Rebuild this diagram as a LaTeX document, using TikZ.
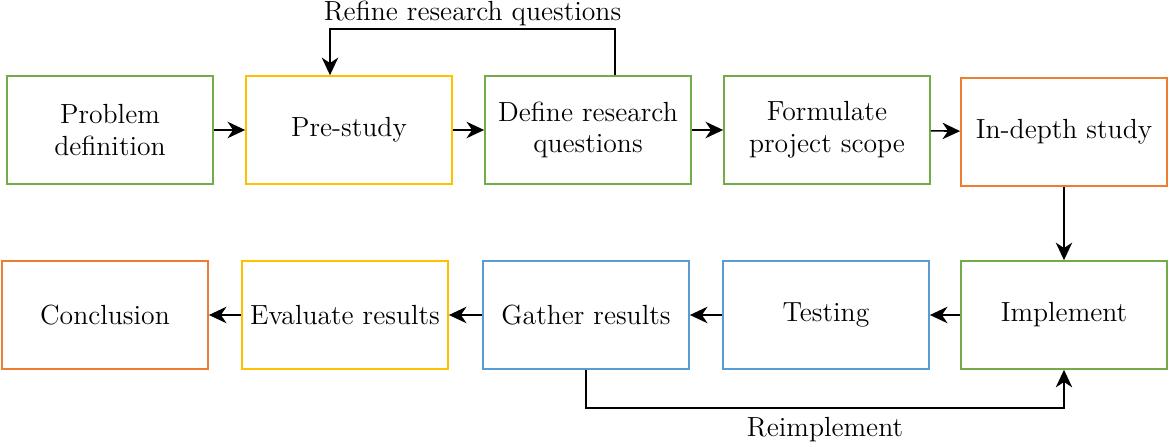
\documentclass[tikz,border=0pt]{standalone}
\definecolor{sgreen}{HTML}{70AD47}
\definecolor{sgold}{HTML}{FFC000}
\definecolor{sorange}{HTML}{ED7D31}
\definecolor{sblue}{HTML}{5B9BD5}
\usepackage{tikz}
\usetikzlibrary{calc, positioning, arrows.meta}

\begin{document}
\begin{tikzpicture}[
  stage/.style={draw=#1, fill=white, line width=0.7pt,
                minimum width=3.3cm, minimum height=1.73cm,
                align=center, inner sep=2pt,
                font=\fontsize{12.6}{14.5}\selectfont},
  flow/.style={-{Stealth[length=8pt,width=7.5pt,inset=2.5pt]}, line width=0.7pt},
  flabel/.style={font=\fontsize{12.6}{14.5}\selectfont, inner sep=1pt},
]
\useasboundingbox (0,0) rectangle (18.72,-7.152);

% top row
\node[stage=sgreen]  (problem)   at (1.76,-2.08)   {Problem\\definition};
\node[stage=sgold]   (prestudy)  at (5.584,-2.08)  {Pre-study};
\node[stage=sgreen]  (define)    at (9.408,-2.08)  {Define research\\questions};
\node[stage=sgreen]  (formulate) at (13.232,-2.08) {Formulate\\project scope};
\node[stage=sorange] (indepth)   at (17.024,-2.112) {In-depth study};

% bottom row
\node[stage=sorange] (conclusion) at (1.68,-5.04)   {Conclusion};
\node[stage=sgold]   (evaluate)   at (5.52,-5.04)   {Evaluate results};
\node[stage=sblue]   (gather)     at (9.376,-5.04)  {Gather results};
\node[stage=sblue]   (testing)    at (13.216,-5.04) {Testing};
\node[stage=sgreen]  (implement)  at (17.024,-5.04) {Implement};

\draw[flow] (problem) -- (prestudy);
\draw[flow] (prestudy) -- (define);
\draw[flow] (define) -- (formulate);
\draw[flow] (formulate) -- (indepth);
\draw[flow] (indepth) -- (implement);
\draw[flow] (implement) -- (testing);
\draw[flow] (testing) -- (gather);
\draw[flow] (gather) -- (evaluate);
\draw[flow] (evaluate) -- (conclusion);

% loops
\coordinate (refinetop) at (0,-0.464);
\coordinate (reimplbot) at (0,-6.528);
\draw[flow] ([xshift=0.432cm]define.north) |- ([xshift=-0.304cm]prestudy.north |- refinetop)
  node[flabel, pos=0.75, above] {Refine research questions}
  -- ([xshift=-0.304cm]prestudy.north);
\draw[flow] (gather.south) |- (implement.south |- reimplbot)
  node[flabel, pos=0.75, below=3pt] {Reimplement}
  -- (implement.south);
\end{tikzpicture}
\end{document}
